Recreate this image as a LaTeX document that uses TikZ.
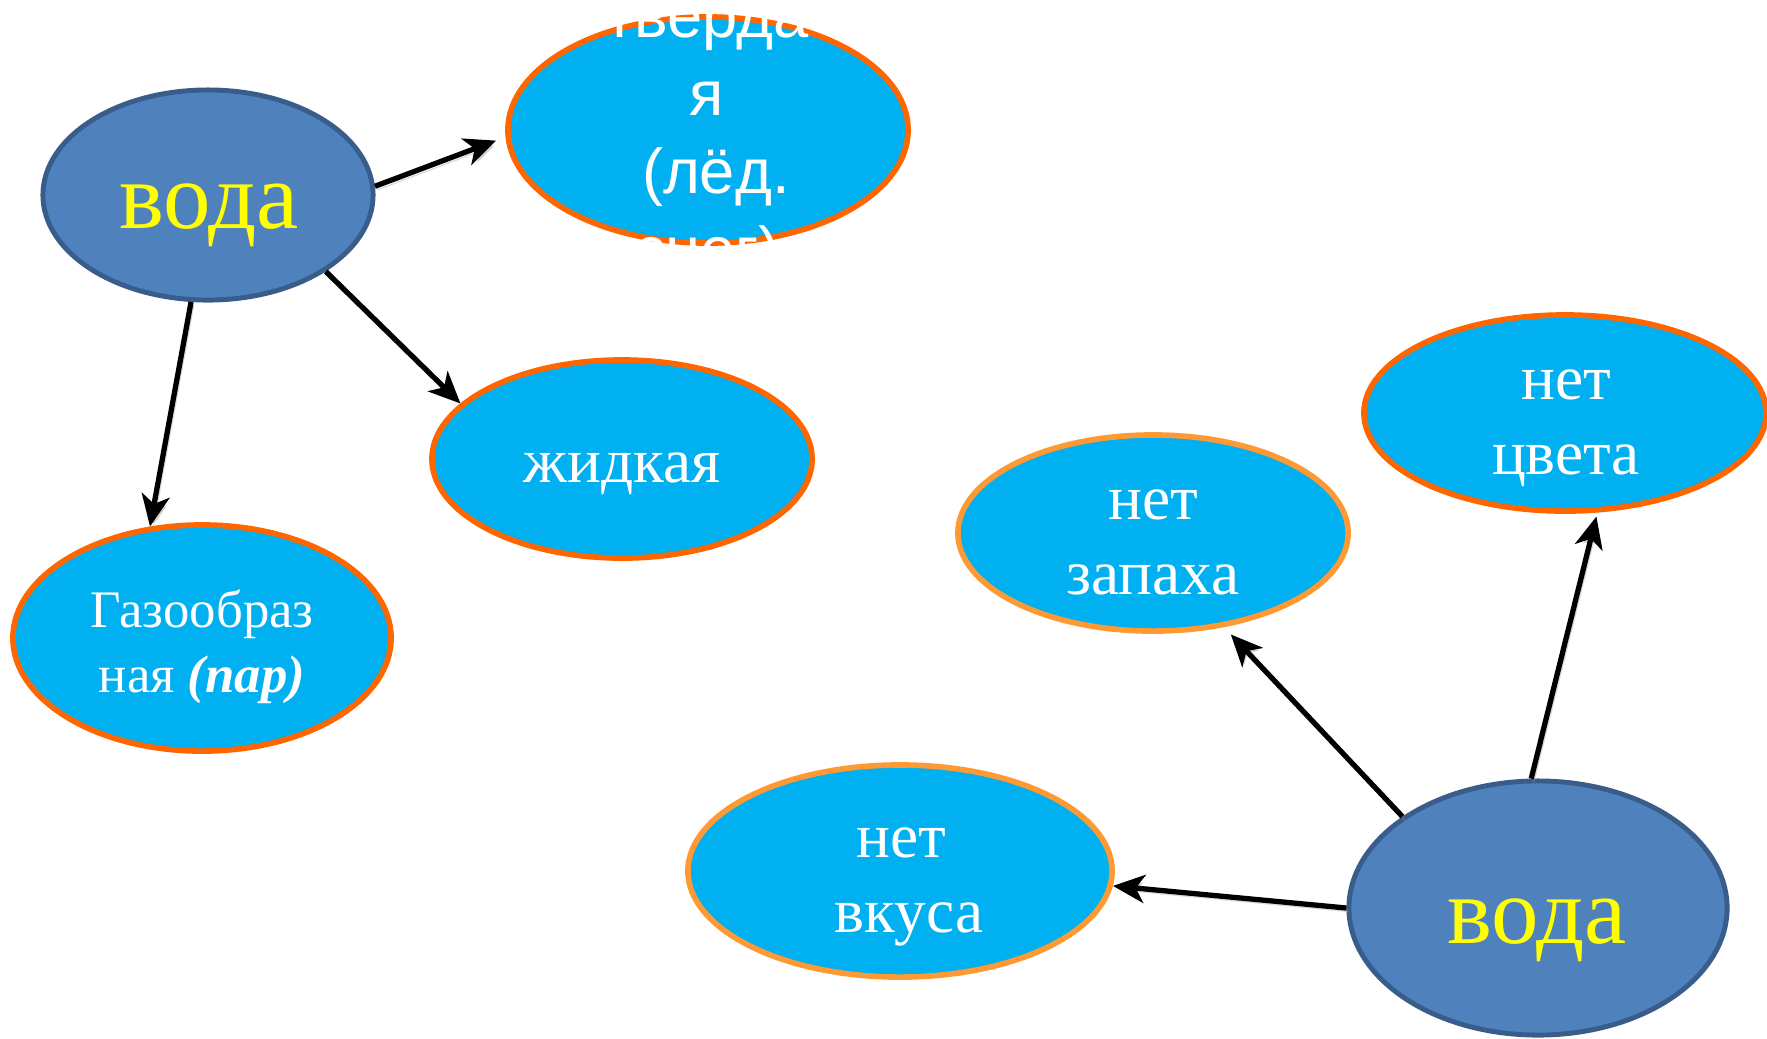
\documentclass[tikz,border=0pt]{standalone}
\usepackage{fontspec}
\setmainfont{Liberation Serif}
\newfontfamily\arialfont{Liberation Sans}
\usetikzlibrary{arrows.meta,shapes.geometric}
\definecolor{vodafill}{HTML}{4F81BD}
\definecolor{vodadraw}{HTML}{385D8A}
\definecolor{skyfill}{HTML}{00B0F0}
\definecolor{orangeA}{HTML}{FF6600}
\definecolor{orangeB}{HTML}{FF9933}
\definecolor{vodatext}{HTML}{FFFF00}
\begin{document}
\begin{tikzpicture}[x=0.01cm,y=-0.01cm,
  vodabox/.style={ellipse, draw=vodadraw, fill=vodafill, line width=1.4pt, inner sep=0pt},
  statebox/.style={ellipse, draw=orangeA, fill=skyfill, line width=1.6pt, inner sep=0pt},
  propbox/.style={ellipse, draw=orangeB, fill=skyfill, line width=1.6pt, inner sep=0pt},
  vodatxt/.style={anchor=base, text=vodatext, font=\fontsize{27}{30}\selectfont, inner sep=0pt},
  lbl/.style={anchor=base, text=white, font=\fontsize{18}{21.6}\selectfont, inner sep=0pt},
  arr/.style={-{Stealth[length=9pt,width=8pt,inset=2.5pt]}, line width=1.5pt, black,
    preaction={draw=black!40, opacity=0.35, transform canvas={shift={(0.25mm,-0.35mm)}}}}
]
\useasboundingbox (0,0) rectangle (1767,1038);

% ellipses
\node[vodabox, minimum width=3.3cm, minimum height=2.1cm] (voda1) at (208,195) {};
\node[statebox, minimum width=4.0cm, minimum height=2.26cm] (tv) at (708,130) {};
\node[statebox, minimum width=3.8cm, minimum height=1.98cm] (zhid) at (622,459) {};
\node[statebox, minimum width=3.78cm, minimum height=2.26cm] (gaz) at (202,638) {};
\node[propbox, minimum width=3.9cm, minimum height=1.96cm] (zap) at (1153,533) {};
\node[propbox, minimum width=4.24cm, minimum height=2.12cm] (vkus) at (900,871) {};
\node[statebox, minimum width=4.02cm, minimum height=1.96cm] (cvet) at (1565,413) {};
\node[vodabox, minimum width=3.78cm, minimum height=2.54cm] (voda2) at (1538,908) {};

% connectors
\draw[arr, shorten >=1mm] (voda1.3) -- (tv.182);
\draw[arr] (voda1.-33) -- (zhid.161);
\draw[arr] (voda1.-99) -- (gaz.115.5);
\draw[arr, shorten >=1mm] (voda2.146.3) -- (zap.-53);
\draw[arr, shorten >=0.4mm] (voda2.93) -- (cvet.-72.6);
\draw[arr] (voda2.180) -- (vkus.-4.4);

% texts
\node[vodatxt] (voda1t) at (209,228) {вода};
\node[vodatxt] (voda2t) at (1537,943) {вода};
\node[lbl] (zhidt) at (622,482) {жидкая};
\node[lbl] (zapt) at (1153,519) {\begin{tabular}[t]{@{}c@{}}нет\\запаха\end{tabular}};
\node[lbl] (vkust) at (901,857) {\begin{tabular}[t]{@{}c@{}}нет\\\hspace*{0.25em}вкуса\end{tabular}};
\node[lbl] (cvett) at (1566,399) {\begin{tabular}[t]{@{}c@{}}нет\\цвета\end{tabular}};
\node[lbl, font=\fontsize{15}{18.5}\selectfont] (gazt) at (202,627)
  {\begin{tabular}[t]{@{}c@{}}Газообраз\\ная \textbf{\textit{(пар)}}\end{tabular}};
\begin{scope}
  \clip (tv.west |- tv.north) rectangle (tv.east |- tv.south);
  \node[lbl, font=\arialfont\fontsize{18}{22.2}\selectfont] (tvt) at (707,37)
    {\begin{tabular}[t]{@{}c@{}}тверда\\я\\\hspace*{0.28em}(лёд.\\снег)\end{tabular}};
\end{scope}
\end{tikzpicture}
\end{document}
